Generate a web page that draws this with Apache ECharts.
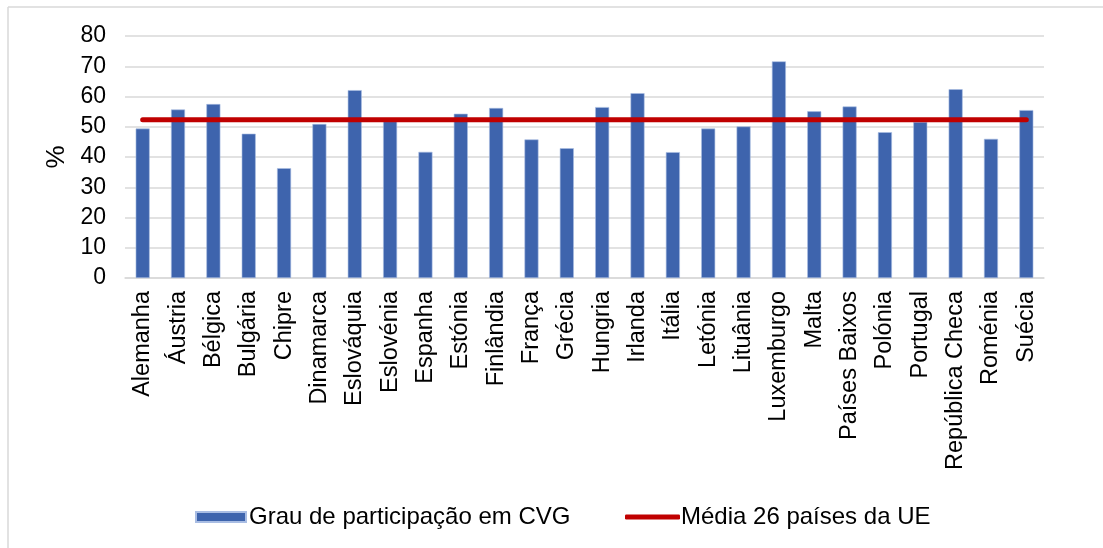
<!DOCTYPE html>
<html>
<head>
<meta charset="utf-8">
<script src="https://cdn.jsdelivr.net/npm/echarts@6/dist/echarts.min.js"></script>
<style>
  html, body { margin: 0; padding: 0; background: #fff; }
  #chart { width: 1103px; height: 548px; }
</style>
</head>
<body>
<div id="chart"></div>
<script>
// países
var countries = ['Alemanha', 'Áustria', 'Bélgica', 'Bulgária', 'Chipre', 'Dinamarca', 'Eslováquia',
  'Eslovénia', 'Espanha', 'Estónia', 'Finlândia', 'França', 'Grécia', 'Hungria', 'Irlanda', 'Itália',
  'Letónia', 'Lituânia', 'Luxemburgo', 'Malta', 'Países Baixos', 'Polónia', 'Portugal',
  'República Checa', 'Roménia', 'Suécia'];

// grau de participação em CVG (%)
var participacao = [49.4, 55.7, 57.5, 47.7, 36.3, 50.9, 62.1, 51.8, 41.7, 54.3, 56.2, 45.8, 42.9,
  56.5, 61.1, 41.6, 49.4, 50.1, 71.6, 55.1, 56.7, 48.2, 51.6, 62.4, 46.0, 55.5];

// média 26 países da UE (%)
var media = [52.3, 52.3, 52.3, 52.3, 52.3, 52.3, 52.3, 52.3, 52.3, 52.3, 52.3, 52.3, 52.3,
  52.3, 52.3, 52.3, 52.3, 52.3, 52.3, 52.3, 52.3, 52.3, 52.3, 52.3, 52.3, 52.3];

var yTicks = { min: 0, max: 80, interval: 10 };

var nomeBarra = 'Grau de participação em CVG';
var nomeLinha = 'Média 26 países da UE';

var chart = echarts.init(document.getElementById('chart'));
var fonte = 'Liberation Sans, Arial, sans-serif';

chart.setOption({
  backgroundColor: '#fff',
  animation: false,
  textStyle: { fontFamily: fonte },
  graphic: [
    { type: 'line', shape: { x1: 8, y1: 7, x2: 1103, y2: 7 }, style: { stroke: '#d9d9d9', lineWidth: 1.5 } },
    { type: 'line', shape: { x1: 8, y1: 7, x2: 8, y2: 548 }, style: { stroke: '#d9d9d9', lineWidth: 1.5 } }
  ],
  grid: { left: 125, right: 59, top: 36, bottom: 270 },
  legend: [
    {
      data: [{ name: nomeBarra, icon: 'rect' }],
      left: 195, top: 505, padding: 0,
      itemWidth: 50, itemHeight: 10, itemGap: 5,
      textStyle: { fontSize: 24, color: '#000', fontFamily: fonte, padding: [0, 0, 0, -2] }
    },
    {
      data: [{ name: nomeLinha, icon: 'roundRect' }],
      left: 625, top: 505, padding: 0,
      itemWidth: 55, itemHeight: 5,
      textStyle: { fontSize: 24, color: '#000', fontFamily: fonte, padding: [0, 0, 0, -4] }
    }
  ],
  xAxis: {
    type: 'category',
    data: countries,
    axisLine: { lineStyle: { color: '#d9d9d9', width: 1.5 } },
    axisTick: { show: false },
    axisLabel: { rotate: 90, margin: 13, fontSize: 23.5, color: '#000', fontFamily: fonte, interval: 0 }
  },
  yAxis: {
    type: 'value',
    min: yTicks.min, max: yTicks.max, interval: yTicks.interval,
    name: '%',
    nameLocation: 'middle',
    nameGap: 55,
    nameRotate: 90,
    nameTextStyle: { fontSize: 26, color: '#000', fontFamily: fonte },
    axisLine: { show: false },
    axisTick: { show: false },
    axisLabel: { margin: 19, fontSize: 23, color: '#000', fontFamily: fonte },
    splitLine: { lineStyle: { color: '#d9d9d9', width: 1.5 } }
  },
  series: [
    {
      name: nomeBarra,
      type: 'bar',
      data: participacao,
      barWidth: 14,
      itemStyle: { color: '#3e64ad', borderColor: '#a9bde3', borderWidth: 0.6 }
    },
    {
      name: nomeLinha,
      type: 'line',
      data: media,
      showSymbol: false,
      symbol: 'none',
      itemStyle: { color: '#c00000' },
      lineStyle: { color: '#c00000', width: 5, cap: 'round' }
    }
  ]
});
</script>
</body>
</html>
